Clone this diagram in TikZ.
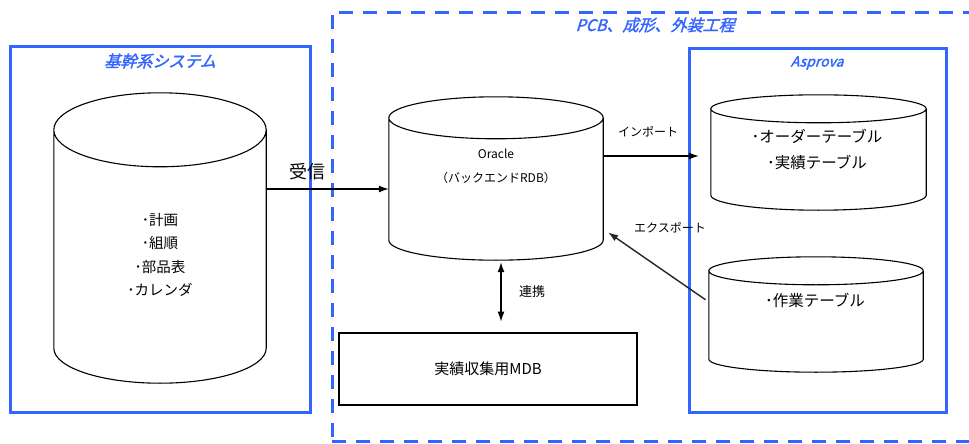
\documentclass[tikz,border=0pt]{standalone}
\usepackage{fontspec}
\usetikzlibrary{arrows.meta,calc}
\setmainfont{Noto Sans CJK JP}
\newfontfamily\ttlfont[FakeSlant=0.3,FakeBold=2]{Noto Sans CJK JP}
\definecolor{boxblue}{RGB}{51,102,255}
\newcommand\dbcyl[3]{%
  \draw[cylline] let \p1=(#1.north west), \p2=(#1.south east) in
    (\x1,\y1-#2pt) -- (\x1,\y2+#3pt)
    arc[start angle=180,end angle=360,x radius={(\x2-\x1)/2},y radius=#3pt]
    -- (\x2,\y1-#2pt)
    ({(\x1+\x2)/2},{\y1-#2pt}) ellipse[x radius={(\x2-\x1)/2},y radius=#2pt];
}
\begin{document}
\begin{tikzpicture}[x=1pt,y=1pt,
  bluebox/.style={draw=boxblue,line width=2.6pt,inner sep=0pt},
  grpbox/.style={draw=boxblue,line width=2.6pt,dash pattern=on 14pt off 10pt,inner sep=0pt},
  ttl/.style={text=boxblue,font=\ttlfont\fontsize{16}{18}\selectfont,inner sep=0pt},
  dbbody/.style={draw=none,inner sep=0pt},
  cylline/.style={line width=1.1pt},
  cyltext/.style={align=center,inner sep=0pt},
  conn/.style={line width=1.2pt,-{Latex[length=10pt,width=7pt]}},
  lbl/.style={font=\fontsize{12}{14}\selectfont,inner sep=0pt}]
\useasboundingbox (0,0) rectangle (969,-444);
\fill[white] (0,0) rectangle (969,-444);

% group frames
\node[grpbox,anchor=north west,minimum width=660pt,minimum height=429pt] (grp) at (331,-11) {};
\node[ttl] (grpttl) at (655,-25) {PCB、成形、外装工程};
\node[bluebox,anchor=north west,minimum width=300pt,minimum height=366pt] (erpbox) at (9,-45) {};
\node[ttl] (erpttl) at (160,-61) {基幹系システム};
\node[bluebox,anchor=north west,minimum width=257pt,minimum height=364pt] (apsbox) at (688,-47) {};
\node[ttl,font=\ttlfont\fontsize{14}{16}\selectfont] (apsttl) at (817,-63) {Asprova};

% cylinders
\node[dbbody,minimum width=212pt,minimum height=290pt] (erp) at (160,-238) {};
\dbcyl{erp}{37}{35}
\node[cyltext,font=\fontsize{14.5}{23.3}\selectfont] (erptxt) at (160,-255) {･計画\\･組順\\･部品表\\･カレンダ};

\node[dbbody,minimum width=214pt,minimum height=163pt] (ora) at (496,-178.5) {};
\dbcyl{ora}{21}{20}
\node[cyltext,font=\fontsize{12}{24}\selectfont] (oratxt) at (496,-166) {Oracle\\（バックエンドRDB）};

\node[dbbody,minimum width=215pt,minimum height=115pt] (ord) at (818.5,-152.5) {};
\dbcyl{ord}{14}{15}
\node[cyltext,font=\fontsize{15.5}{26}\selectfont] (ordtxt) at (817,-150) {･オーダーテーブル\\･実績テーブル};

\node[dbbody,minimum width=214pt,minimum height=115pt] (wrk) at (816,-314.5) {};
\dbcyl{wrk}{14}{13}
\node[cyltext,font=\fontsize{15.5}{26}\selectfont] (wrktxt) at (815,-300) {･作業テーブル};

% MDB box
\node[draw,line width=2.8pt,minimum width=298pt,minimum height=72pt,font=\fontsize{15}{18}\selectfont] (mdb) at (488,-369) {実績収集用MDB};

% connectors
\draw[conn] (erp.east |- 0,-189) -- (ora.west |- 0,-189);
\node[font=\fontsize{18}{20}\selectfont,inner sep=0pt] (recv) at (307,-172) {受信};

\draw[conn,shorten >=12pt] (ora.east |- 0,-156) -- (ord.west |- 0,-156);
\node[lbl] (imp) at (648,-132) {インポート};

\draw[conn,draw=black!85,line width=1.4pt,shorten <=4pt,shorten >=6pt] (wrk.west |- 0,-302) -- (ora.east |- 0,-229);
\node[lbl] (exp) at (670,-228) {エクスポート};

\draw[line width=1.2pt,{Latex[length=10pt,width=7pt]}-{Latex[length=10pt,width=7pt]}]
  ($(ora.south)+(5,-2)$) -- ($(mdb.north)+(13,10)$);
\node[font=\fontsize{13}{15}\selectfont,inner sep=0pt] (lnk) at (532,-292) {連携};
\end{tikzpicture}
\end{document}
